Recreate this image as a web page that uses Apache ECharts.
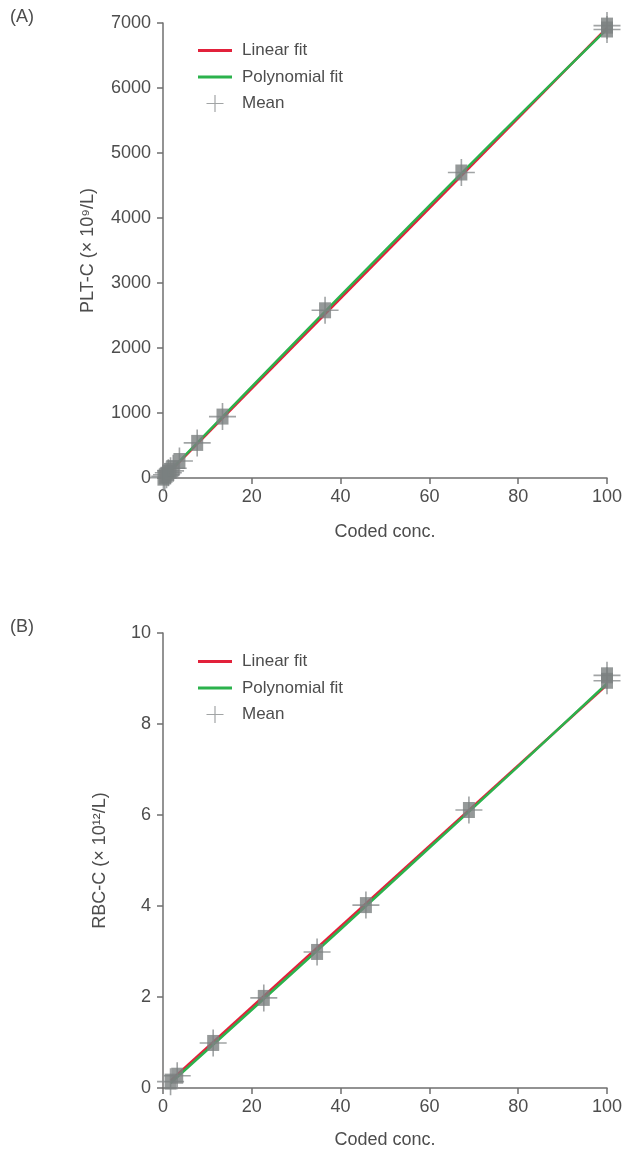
<!DOCTYPE html>
<html><head><meta charset="utf-8">
<script src="https://cdn.jsdelivr.net/npm/echarts@6/dist/echarts.min.js"></script>
<style>html,body{margin:0;padding:0;background:#fff}#c{width:634px;height:1153px}</style>
</head><body><div id="c"></div>
<script>
// Panel A (PLT-C)
const meanA = [[0.1,5],[0.4,25],[0.8,50],[1.2,80],[1.7,110],[2.3,150],[3.7,262],[7.7,540],[13.4,945],[36.5,2580],[67.2,4700],[100,6900],[100,6960]];
const linA = [[0,-10],[100,6925]];
const polyA = [[0,0],[20,1405],[40,2805],[60,4190],[80,5560],[100,6905]];
// Panel B (RBC-C)
const meanB = [[1.7,0.14],[3.2,0.27],[11.3,0.99],[22.7,1.98],[34.7,2.99],[45.7,4.02],[68.9,6.11],[100,8.95],[100,9.07]];
const linB = [[1.7,0.16],[100,8.86]];
const polyB = [[1.7,0.11],[20,1.72],[40,3.49],[60,5.28],[80,7.07],[100,8.89]];

const RED='#e2213b', GREEN='#2bb24c', GRAY='#7b7f80', CROSS='#8a8d8e', TXT='#4d4d4d';
const plus='path://M-0.06,-1L0.06,-1L0.06,-0.06L1,-0.06L1,0.06L0.06,0.06L0.06,1L-0.06,1L-0.06,0.06L-1,0.06L-1,-0.06L-0.06,-0.06Z';
const plusLeg='path://M-0.07,-1L0.07,-1L0.07,-0.07L1,-0.07L1,0.07L0.07,0.07L0.07,1L-0.07,1L-0.07,0.07L-1,0.07L-1,-0.07L-0.07,-0.07Z';
const bar='path://M0,0L34,0L34,3L0,3Z';
const FONT='Liberation Sans';
const axisLine={show:true,lineStyle:{color:'#6f6f6f',width:1.5}};
const plain = v => String(v);
function xAxis(gi){return {type:'value',gridIndex:gi,min:0,max:100,interval:20,
  name:'Coded conc.',nameLocation:'middle',nameGap:gi?43:45,
  nameTextStyle:{color:TXT,fontSize:18,fontFamily:FONT},
  axisLine:axisLine,axisTick:{show:true,length:6,lineStyle:{color:'#6f6f6f',width:1.5}},
  axisLabel:{color:TXT,fontSize:18,fontFamily:FONT,margin:10,formatter:plain},splitLine:{show:false}};}
function yAxis(gi,max,iv,name,gap){return {type:'value',gridIndex:gi,min:0,max:max,interval:iv,
  name:name,nameLocation:'middle',nameGap:gap,
  nameTextStyle:{color:TXT,fontSize:18,fontFamily:FONT},
  axisLine:axisLine,axisTick:{show:true,length:6,lineStyle:{color:'#6f6f6f',width:1.5}},
  axisLabel:{color:TXT,fontSize:18,fontFamily:FONT,margin:12,formatter:plain},splitLine:{show:false}};}
function series(gi,lin,poly,mean){return [
  {name:'Linear fit',type:'line',xAxisIndex:gi,yAxisIndex:gi,data:lin,symbol:'none',lineStyle:{color:RED,width:2.5},itemStyle:{color:RED},z:2},
  {name:'Polynomial fit',type:'line',xAxisIndex:gi,yAxisIndex:gi,data:poly,symbol:'none',smooth:true,lineStyle:{color:GREEN,width:2.5},itemStyle:{color:GREEN},z:3},
  {name:'Mean',type:'scatter',xAxisIndex:gi,yAxisIndex:gi,data:mean,symbol:plus,symbolSize:27,itemStyle:{color:CROSS},z:4},
  {name:'Mean box',type:'scatter',xAxisIndex:gi,yAxisIndex:gi,data:mean,symbol:'rect',symbolSize:[12,16],itemStyle:{color:GRAY},z:5,silent:true}
];}
function legend(top){return {orient:'vertical',left:193,top:top,itemWidth:34,itemHeight:17,itemGap:9.5,
  textStyle:{color:TXT,fontSize:17,fontFamily:FONT,padding:[0,0,0,5]},
  data:[{name:'Linear fit',icon:bar,itemStyle:{color:RED}},{name:'Polynomial fit',icon:bar,itemStyle:{color:GREEN}},{name:'Mean',icon:plusLeg,itemStyle:{color:CROSS}}]};}

const chart=echarts.init(document.getElementById('c'));
chart.setOption({
  animation:false,
  backgroundColor:'#fff',
  grid:[{left:163,top:23,width:444,height:455},{left:163,top:633,width:444,height:455}],
  xAxis:[xAxis(0),xAxis(1)],
  yAxis:[yAxis(0,7000,1000,'PLT-C (× 10⁹/L)',66),yAxis(1,10,2,'RBC-C (× 10¹²/L)',54)],
  legend:[legend(37),legend(648)],
  series:[...series(0,linA,polyA,meanA),...series(1,linB,polyB,meanB)],
  graphic:[
    {type:'text',left:10,top:8,style:{text:'(A)',fill:TXT,font:'18px "Liberation Sans"'}},
    {type:'text',left:10,top:618,style:{text:'(B)',fill:TXT,font:'18px "Liberation Sans"'}}
  ]
});
</script></body></html>
